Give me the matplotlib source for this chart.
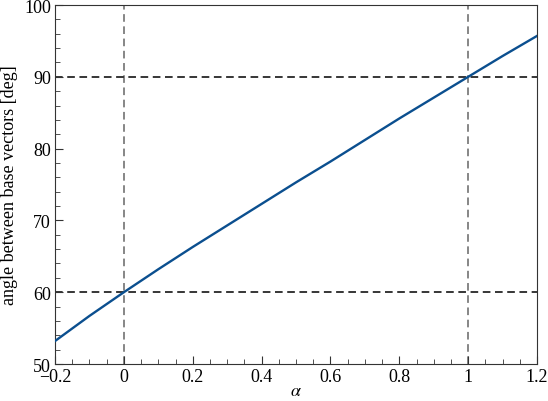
import matplotlib
matplotlib.use("Agg")
import matplotlib.pyplot as plt
from matplotlib.ticker import MultipleLocator

# values
alpha = [-0.2, -0.1, 0.0, 0.1, 0.2, 0.3, 0.4, 0.5, 0.6, 0.7, 0.8, 0.9, 1.0, 1.1, 1.2]
angle = [53.2, 56.7, 60.0, 63.2, 66.3, 69.3, 72.3, 75.3, 78.2, 81.2, 84.2, 87.1, 90.0, 92.9, 95.7]

ref_alpha = [0, 1]
ref_angle = [60, 90]
xticks = [-0.2, 0, 0.2, 0.4, 0.6, 0.8, 1, 1.2]
xtick_labels = ["\u22120.2", "0", "0.2", "0.4", "0.6", "0.8", "1", "1.2"]
yticks = [50, 60, 70, 80, 90, 100]

plt.rcParams['font.family'] = ['Liberation Serif', 'DejaVu Serif']
plt.rcParams['mathtext.fontset'] = 'stix'

fig = plt.figure(figsize=(5.48, 4.02), dpi=100)
ax = fig.add_axes([0.1004, 0.092, 0.8796, 0.893])

for a in ref_alpha:
    ax.axvline(a, color='#666666', lw=1.1, dashes=(5, 3), zorder=1)
for g in ref_angle:
    ax.axhline(g, color='black', lw=1.1, dashes=(5, 3), zorder=1)

ax.plot(alpha, angle, color='#0b4f8f', lw=1.7, zorder=3)

ax.set_xlim(-0.2, 1.2)
ax.set_ylim(50, 100)
ax.set_xticks(xticks)
ax.set_xticklabels(xtick_labels)
ax.set_yticks(yticks)
ax.xaxis.set_minor_locator(MultipleLocator(0.05))
ax.yaxis.set_minor_locator(MultipleLocator(2))
ax.tick_params(which='both', direction='in', labelsize=13, color='#333333')
ax.tick_params(axis='x', pad=3)
ax.tick_params(axis='y', pad=3)
ax.tick_params(which='major', length=6)
ax.tick_params(which='minor', length=3.5)
for s in ax.spines.values():
    s.set_color('#333333')

ax.set_xlabel(r'$\alpha$', fontsize=13, labelpad=-2)
ax.set_ylabel('angle between base vectors [deg]', fontsize=13, labelpad=4)

fig.savefig('out.png', dpi=100)
